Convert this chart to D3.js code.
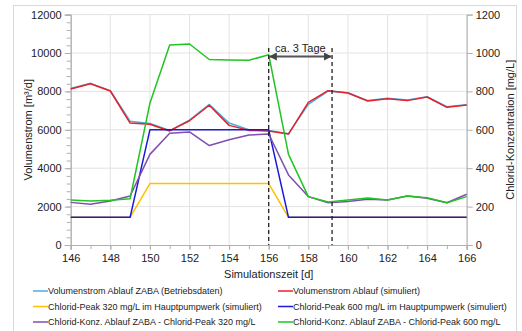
<!DOCTYPE html>
<html>
<head>
<meta charset="utf-8">
<script src="https://cdn.jsdelivr.net/npm/d3@7"></script>
<style>
  body { margin: 0; background: #fff; }
  text { font-family: "Liberation Sans", Arial, sans-serif; fill: #222; }
</style>
</head>
<body>
<div id="chart"></div>
<script>
// data
var days = [146,147,148,149,150,151,152,153,154,155,156,157,158,159,160,161,162,163,164,165,166];
var volBetrieb = [8150,8420,8040,6450,6330,5960,6500,7320,6350,6000,5960,5800,7330,8020,7930,7520,7640,7550,7720,7200,7300];
var volSim     = [8130,8400,8020,6350,6290,5940,6470,7280,6230,5970,5940,5780,7430,8040,7920,7500,7620,7520,7710,7170,7290];
var peak320 = [144,144,144,144,320,320,320,320,320,320,320,144,144,144,144,144,144,144,144,144,144];
var peak600 = [144,144,144,144,600,600,600,600,600,600,600,144,144,144,144,144,144,144,144,144,144];
var konz320 = [222,212,229,255,472,582,589,518,548,573,578,365,252,220,226,238,234,255,243,220,264];
var konz600 = [234,229,233,241,738,1042,1047,966,964,962,991,472,252,224,234,245,234,255,246,220,252];
var leftTicks = [0,2000,4000,6000,8000,10000,12000];
var rightTicks = [0,200,400,600,800,1000,1200];
var xTicks = [146,148,150,152,154,156,158,160,162,164,166];
var markDays = [156, 159.2];

var w = 522, h = 331;
var pLeft = 70.7, pRight = 466.7, pTop = 14.6, pBottom = 245;

var svg = d3.select("#chart").append("svg")
  .attr("width", w).attr("height", h);

// outer frame
svg.append("rect")
  .attr("x", 13.5).attr("y", 5.5).attr("width", 503).attr("height", 340)
  .attr("fill", "none").attr("stroke", "#d9d9d9");

var x = d3.scaleLinear().domain([146, 166]).range([pLeft, pRight]);
var yL = d3.scaleLinear().domain([0, 12000]).range([pBottom, pTop]);
var yR = d3.scaleLinear().domain([0, 1200]).range([pBottom, pTop]);

// grid
svg.append("g").selectAll("line").data(leftTicks.slice(1)).enter().append("line")
  .attr("x1", pLeft).attr("x2", pRight)
  .attr("y1", function(d) { return yL(d); }).attr("y2", function(d) { return yL(d); })
  .attr("stroke", "#e3e3e3");
svg.append("g").selectAll("line").data(xTicks.slice(1)).enter().append("line")
  .attr("y1", pTop).attr("y2", pBottom)
  .attr("x1", function(d) { return x(d); }).attr("x2", function(d) { return x(d); })
  .attr("stroke", "#e3e3e3");

// axes
svg.append("g").attr("transform", "translate(" + pLeft + ",0)")
  .call(d3.axisLeft(yL).tickValues(d3.range(0, 12001, 400)).tickSize(4).tickFormat(""));
svg.append("g").attr("transform", "translate(" + pLeft + ",0)")
  .call(d3.axisLeft(yL).tickValues(leftTicks).tickSize(6).tickPadding(3).tickFormat(d3.format("d")));
svg.append("g").attr("transform", "translate(" + pRight + ",0)")
  .call(d3.axisRight(yR).tickValues(rightTicks).tickSize(6).tickPadding(3).tickFormat(d3.format("d")));
svg.append("g").attr("transform", "translate(0," + pBottom + ")")
  .call(d3.axisBottom(x).tickValues(d3.range(146, 167, 1)).tickSize(4).tickFormat(""));
svg.append("g").attr("transform", "translate(0," + pBottom + ")")
  .call(d3.axisBottom(x).tickValues(xTicks).tickSize(5).tickPadding(4).tickFormat(d3.format("d")));

svg.selectAll(".domain").attr("stroke", "#b0b0b0");
svg.selectAll(".tick line").attr("stroke", "#b0b0b0");
svg.selectAll(".tick text").style("font-size", "11px").attr("fill", "#222")
  .style("font-family", "Liberation Sans, Arial, sans-serif");

// axis titles
svg.append("text").attr("transform", "translate(32," + ((pTop + pBottom) / 2) + ") rotate(-90)")
  .attr("text-anchor", "middle").style("font-size", "11px").text("Volumenstrom [m³/d]");
svg.append("text").attr("transform", "translate(514," + ((pTop + pBottom) / 2) + ") rotate(-90)")
  .attr("text-anchor", "middle").style("font-size", "11px").text("Chlorid-Konzentration [mg/L]");
svg.append("text").attr("x", (pLeft + pRight) / 2).attr("y", 278)
  .attr("text-anchor", "middle").style("font-size", "11px").text("Simulationszeit [d]");

// series
var series = [
  { name: "Volumenstrom Ablauf ZABA (Betriebsdaten)", vals: volBetrieb, axis: yL, color: "#4aaee0" },
  { name: "Volumenstrom Ablauf (simuliert)", vals: volSim, axis: yL, color: "#e8202a" },
  { name: "Chlorid-Peak 320 mg/L im Hauptpumpwerk (simuliert)", vals: peak320, axis: yR, color: "#ffc000" },
  { name: "Chlorid-Peak 600 mg/L im Hauptpumpwerk (simuliert)", vals: peak600, axis: yR, color: "#1a1ad6" },
  { name: "Chlorid-Konz. Ablauf ZABA - Chlorid-Peak 320 mg/L", vals: konz320, axis: yR, color: "#7f4fb0" },
  { name: "Chlorid-Konz. Ablauf ZABA - Chlorid-Peak 600 mg/L", vals: konz600, axis: yR, color: "#22c322" }
];

series.forEach(function(s) {
  var pts = s.vals.map(function(v, j) { return [days[j], v]; });
  svg.append("path")
    .datum(pts)
    .attr("d", d3.line().x(function(d) { return x(d[0]); }).y(function(d) { return s.axis(d[1]); }))
    .attr("fill", "none").attr("stroke", s.color).attr("stroke-width", 1.5)
    .attr("stroke-linejoin", "round");
});

// marker for "ca. 3 Tage"
svg.append("g").selectAll("line").data(markDays).enter().append("line")
  .attr("x1", function(d) { return x(d); }).attr("x2", function(d) { return x(d); })
  .attr("y1", 48).attr("y2", pBottom)
  .attr("stroke", "#222").attr("stroke-width", 1.3).attr("stroke-dasharray", "4,3");

var defs = svg.append("defs");
defs.append("marker").attr("id", "arr")
  .attr("viewBox", "0 0 10 10").attr("refX", 9).attr("refY", 5)
  .attr("markerWidth", 4).attr("markerHeight", 4).attr("orient", "auto-start-reverse")
  .append("path").attr("d", "M0,0L10,5L0,10z").attr("fill", "#444");
svg.append("line")
  .attr("x1", x(markDays[0]) + 1).attr("x2", x(markDays[1]) - 1)
  .attr("y1", 56.5).attr("y2", 56.5)
  .attr("stroke", "#555").attr("stroke-width", 2)
  .attr("marker-start", "url(#arr)").attr("marker-end", "url(#arr)");
svg.append("text").attr("x", (x(markDays[0]) + x(markDays[1])) / 2).attr("y", 52)
  .attr("text-anchor", "middle").style("font-size", "11px").text("ca. 3 Tage");

// legend
var leg = svg.append("g").selectAll("g").data(series).enter().append("g")
  .attr("transform", function(d, i) {
    return "translate(" + (i % 2 == 0 ? 33 : 278) + "," + (291 + Math.floor(i / 2) * 15.5) + ")";
  });
leg.append("line").attr("x1", 0).attr("x2", 15).attr("y1", 0).attr("y2", 0)
  .attr("stroke", function(d) { return d.color; }).attr("stroke-width", 1.5);
leg.append("text").attr("x", 15).attr("y", 3.3).style("font-size", "9px")
  .text(function(d) { return d.name; });
</script>
</body>
</html>
